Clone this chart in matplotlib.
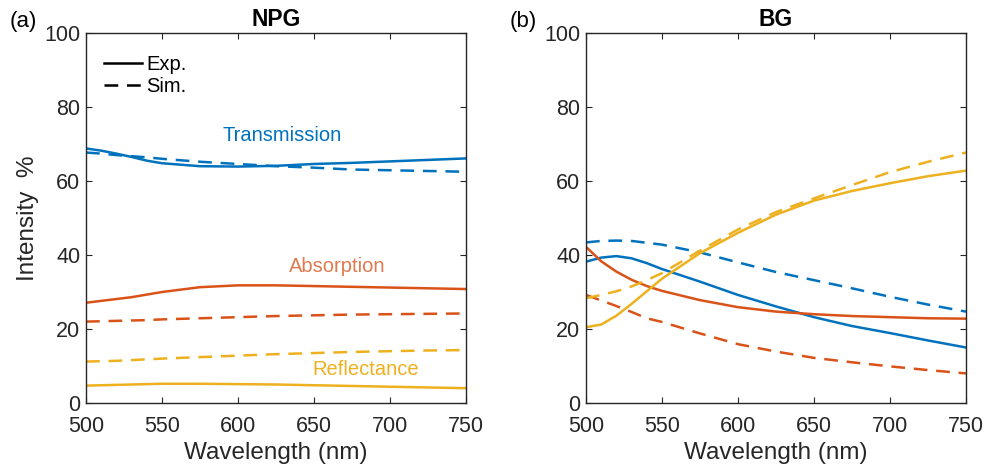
import matplotlib
matplotlib.use('Agg')
import matplotlib.pyplot as plt
from matplotlib.lines import Line2D

plt.rcParams['font.family'] = ['Liberation Sans', 'DejaVu Sans']

# Wavelength grid (nm)
wavelength = [500, 510, 520, 530, 540, 550, 575, 600, 625, 650, 675, 700, 725, 750]

# NPG (left panel)
npg_T_exp = [68.8, 68.2, 67.4, 66.5, 65.5, 64.8, 64.0, 63.9, 64.1, 64.6, 64.9, 65.3, 65.7, 66.1]
npg_T_sim = [67.7, 67.4, 67.0, 66.7, 66.4, 66.0, 65.2, 64.6, 64.0, 63.6, 63.1, 62.9, 62.7, 62.5]
npg_A_exp = [27.1, 27.6, 28.1, 28.6, 29.3, 30.0, 31.3, 31.8, 31.8, 31.6, 31.4, 31.2, 31.0, 30.8]
npg_A_sim = [22.0, 22.1, 22.2, 22.3, 22.4, 22.6, 22.9, 23.2, 23.5, 23.7, 23.9, 24.0, 24.1, 24.2]
npg_R_exp = [4.7, 4.8, 4.9, 5.0, 5.1, 5.2, 5.2, 5.1, 5.0, 4.8, 4.6, 4.4, 4.2, 4.0]
npg_R_sim = [11.2, 11.3, 11.4, 11.6, 11.8, 12.0, 12.4, 12.8, 13.2, 13.5, 13.8, 14.0, 14.2, 14.3]

# BG (right panel)
bg_T_exp = [38.2, 39.3, 39.7, 39.1, 37.8, 36.2, 32.8, 29.2, 26.1, 23.2, 20.8, 18.9, 16.9, 15.0]
bg_T_sim = [43.4, 43.8, 43.9, 43.8, 43.3, 42.8, 40.7, 38.0, 35.4, 33.2, 31.0, 28.7, 26.6, 24.7]
bg_A_exp = [42.2, 38.3, 35.5, 33.3, 31.6, 30.3, 27.8, 25.9, 24.7, 24.0, 23.5, 23.2, 22.9, 22.8]
bg_A_sim = [29.2, 27.7, 26.2, 24.6, 22.9, 21.9, 18.8, 15.9, 13.9, 12.2, 11.0, 9.9, 8.9, 8.0]
bg_R_exp = [20.5, 21.2, 23.6, 26.8, 30.2, 33.6, 40.5, 46.0, 50.9, 54.7, 57.3, 59.4, 61.3, 62.8]
bg_R_sim = [28.3, 29.2, 30.2, 31.5, 33.2, 35.1, 41.2, 46.9, 51.6, 55.3, 58.9, 62.4, 65.2, 67.7]

blue = '#0072BD'
orange = '#D95319'
yellow = '#EDB120'
dark = '#262626'
dash = (5.5, 3.5)
lw = 1.8

fig = plt.figure(figsize=(9.87, 4.67), dpi=100)
ax1 = fig.add_axes([86 / 987, 64 / 467, 380 / 987, 370 / 467])
ax2 = fig.add_axes([586 / 987, 64 / 467, 380 / 987, 370 / 467])

panels = [
    (ax1, 'NPG', npg_T_exp, npg_T_sim, npg_A_exp, npg_A_sim, npg_R_exp, npg_R_sim),
    (ax2, 'BG', bg_T_exp, bg_T_sim, bg_A_exp, bg_A_sim, bg_R_exp, bg_R_sim),
]

for ax, name, T_exp, T_sim, A_exp, A_sim, R_exp, R_sim in panels:
    ax.plot(wavelength, T_exp, color=blue, lw=lw)
    ax.plot(wavelength, T_sim, color=blue, lw=lw, dashes=dash)
    ax.plot(wavelength, A_exp, color=orange, lw=lw)
    ax.plot(wavelength, A_sim, color=orange, lw=lw, dashes=dash)
    ax.plot(wavelength, R_exp, color=yellow, lw=lw)
    ax.plot(wavelength, R_sim, color=yellow, lw=lw, dashes=dash)

    ax.set_xlim(500, 750)
    ax.set_ylim(0, 100)
    ax.set_xticks([500, 550, 600, 650, 700, 750])
    ax.set_yticks([0, 20, 40, 60, 80, 100])
    ax.tick_params(direction='in', top=True, right=True, length=4.5, width=0.8,
                   labelsize=15.5, colors=dark)
    ax.tick_params(axis='x', pad=9)
    ax.tick_params(axis='y', pad=4)
    for s in ax.spines.values():
        s.set_color(dark)
        s.set_linewidth(1.0)
    ax.set_xlabel('Wavelength (nm)', fontsize=17.5, color=dark, labelpad=4)
    ax.set_title(name, fontsize=16.5, fontweight='bold', pad=5)

ax1.set_ylabel('Intensity  %', fontsize=17.5, color=dark, labelpad=4)

# annotations on the NPG panel
ax1.text(629, 72.4, 'Transmission', color=blue, fontsize=14.5, ha='center', va='center')
ax1.text(665, 36.8, 'Absorption', color='#E07A50', fontsize=14.5, ha='center', va='center')
ax1.text(684, 9.0, 'Reflectance', color=yellow, fontsize=14.5, ha='center', va='center')

handles = [Line2D([], [], color='black', lw=lw),
           Line2D([], [], color='black', lw=lw, dashes=dash)]
ax1.legend(handles, ['Exp.', 'Sim.'], loc='upper left', frameon=False, fontsize=14.5,
           handlelength=1.9, handletextpad=0.2, labelspacing=0.15,
           bbox_to_anchor=(0.0, 0.99))

fig.text(10 / 987, 1 - 22 / 467, '(a)', fontsize=16, va='center', ha='left')
fig.text(510 / 987, 1 - 22 / 467, '(b)', fontsize=16, va='center', ha='left')

fig.savefig('out.png', dpi=100)
